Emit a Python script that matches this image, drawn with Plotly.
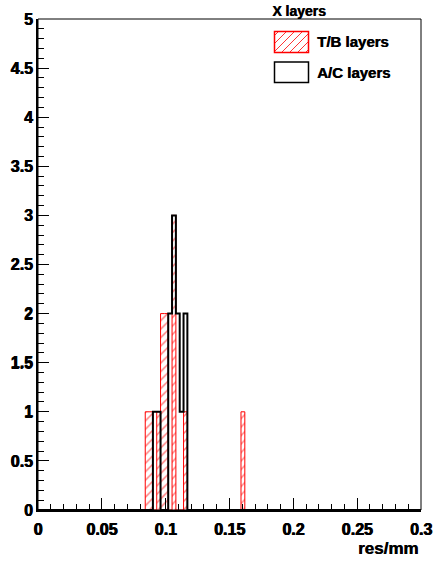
import numpy as np
import plotly.graph_objects as go

# ---- data (histogram bins: 100 bins of width 0.003 from 0 to 0.3) ----
x_min, x_max, n_bins = 0.0, 0.3, 100
tb_bin_low = [0.084, 0.087, 0.093, 0.096, 0.099, 0.105, 0.114, 0.159]
tb_counts = [1, 1, 1, 2, 2, 3, 1, 1]
ac_bin_low = [0.090, 0.093, 0.102, 0.105, 0.108, 0.111, 0.114]
ac_counts = [1, 1, 2, 3, 2, 1, 2]
series_names = ["T/B layers", "A/C layers"]
title_text = "X layers"
x_label = "res/mm"
x_tick_vals = [0, 0.05, 0.1, 0.15, 0.2, 0.25, 0.3]
x_tick_labels = ["0", "0.05", "0.1", "0.15", "0.2", "0.25", "0.3"]
y_tick_vals = [0, 0.5, 1, 1.5, 2, 2.5, 3, 3.5, 4, 4.5, 5]
y_tick_labels = ["0", "0.5", "1", "1.5", "2", "2.5", "3", "3.5", "4", "4.5", "5"]

edges = np.linspace(x_min, x_max, n_bins + 1)
width = (x_max - x_min) / n_bins


def full_hist(lows, counts):
    h = np.zeros(n_bins)
    for lo, c in zip(lows, counts):
        h[int(round((lo - x_min) / width))] += c
    return h


def step_xy(h):
    return list(edges), list(h) + [h[-1]]


tb_h = full_hist(tb_bin_low, tb_counts)
ac_h = full_hist(ac_bin_low, ac_counts)

fig = go.Figure()
tx, ty = step_xy(tb_h)
fig.add_trace(go.Scatter(
    x=tx, y=ty, mode="lines", line=dict(shape="hv", color="#ff0000", width=1),
    fill="tozeroy", fillcolor="rgba(0,0,0,0)",
    fillpattern=dict(shape="/", fgcolor="#ff0000", bgcolor="rgba(0,0,0,0)",
                     size=6, solidity=0.25, fillmode="overlay"),
    name=series_names[0], showlegend=False, hoverinfo="skip"))
ax_, ay_ = step_xy(ac_h)
fig.add_trace(go.Scatter(
    x=ax_, y=ay_, mode="lines", line=dict(shape="hv", color="black", width=2),
    name=series_names[1], showlegend=False, hoverinfo="skip"))

FONT = "Arial, Liberation Sans, sans-serif"
SHADOW = "0.5px 0px 0px black"

# plot area geometry in pixels (for legend placement)
W, H = 434, 562
ml, mr, mt, mb = 38, 13, 19, 52
pw, ph = W - ml - mr, H - mt - mb


def px2paper(px, py):
    return (px - ml) / pw, (H - mb - py) / ph


shapes = []
# frame (top/right thin)
shapes.append(dict(type="rect", xref="paper", yref="paper", x0=0, x1=1, y0=0, y1=1,
                   line=dict(color="black", width=1), layer="above"))

# legend swatches
sw_x0, sw_x1 = 274.5, 308.5
rows = [(31.5, 52.5), (62, 82.5)]
for i, (y0p, y1p) in enumerate(rows):
    a0, b0 = px2paper(sw_x0, y1p)
    a1, b1 = px2paper(sw_x1, y0p)
    col = "#ff0000" if i == 0 else "black"
    shapes.append(dict(type="rect", xref="paper", yref="paper", x0=a0, x1=a1, y0=b0, y1=b1,
                       line=dict(color=col, width=1.5)))
# hatch lines in first swatch (45 deg, spacing 8px)
y0p, y1p = rows[0]
hgt = y1p - y0p
for start in np.arange(sw_x0 - hgt + 4, sw_x1, 8):
    xa, ya = start, y1p
    xb, yb = start + hgt, y0p
    if xa < sw_x0:
        ya = ya - (sw_x0 - xa)
        xa = sw_x0
    if xb > sw_x1:
        yb = yb + (xb - sw_x1)
        xb = sw_x1
    if xb <= xa:
        continue
    p0 = px2paper(xa, ya)
    p1 = px2paper(xb, yb)
    shapes.append(dict(type="line", xref="paper", yref="paper", x0=p0[0], y0=p0[1],
                       x1=p1[0], y1=p1[1], line=dict(color="#ff0000", width=0.8)))

annotations = []
for i, (y0p, y1p) in enumerate(rows):
    ax0, ay0 = px2paper(315, (y0p + y1p) / 2)
    annotations.append(dict(text=series_names[i], xref="paper", yref="paper",
                            x=ax0, y=ay0, xanchor="left", yanchor="middle", showarrow=False,
                            font=dict(family=FONT, size=15, color="black", weight="bold",
                                      shadow=SHADOW)))
lx, ly = px2paper(420, 548)
annotations.append(dict(text=x_label, xref="paper", yref="paper", x=lx, y=ly,
                        xanchor="right", yanchor="middle", showarrow=False,
                        font=dict(family=FONT, size=17, color="black", weight="bold",
                                  shadow=SHADOW)))

tick_font = dict(family=FONT, size=16, color="#000000", weight=900,
                 shadow="0.7px 0px 0px #000000, 0px 0.3px 0px #000000")
fig.update_layout(
    width=W, height=H,
    font=dict(family=FONT, weight="bold", color="black", size=16),
    margin=dict(l=ml, r=mr, t=mt, b=mb, autoexpand=False),
    paper_bgcolor="white", plot_bgcolor="white",
    title=dict(text=title_text, x=299 / W, xref="container",
               xanchor="center", y=1 - 11 / H, yanchor="middle",
               font=dict(family=FONT, size=14, color="black", weight="bold", shadow=SHADOW)),
    shapes=shapes, annotations=annotations,
    xaxis=dict(range=[x_min, x_max], tickmode="array", tickvals=x_tick_vals,
               ticktext=x_tick_labels,
               ticks="inside", ticklen=12,
               tickwidth=1, tickcolor="black", showline=True, linewidth=2, linecolor="black",
               showgrid=False, zeroline=False, tickfont=tick_font, ticklabelstandoff=4,
               automargin=False,
               minor=dict(dtick=0.01, tick0=0, ticks="inside", ticklen=6, tickcolor="black",
                          tickwidth=1, showgrid=False)),
    yaxis=dict(range=[0, 5], tickmode="array", tickvals=y_tick_vals,
               ticktext=y_tick_labels,
               ticks="inside", ticklen=11,
               tickwidth=1, tickcolor="black", showline=True, linewidth=2, linecolor="black",
               showgrid=False, zeroline=False, tickfont=tick_font, ticklabelstandoff=0,
               automargin=False,
               minor=dict(dtick=0.1, tick0=0, ticks="inside", ticklen=6, tickcolor="black",
                          tickwidth=1, showgrid=False)),
)

fig.write_html("out.html")
